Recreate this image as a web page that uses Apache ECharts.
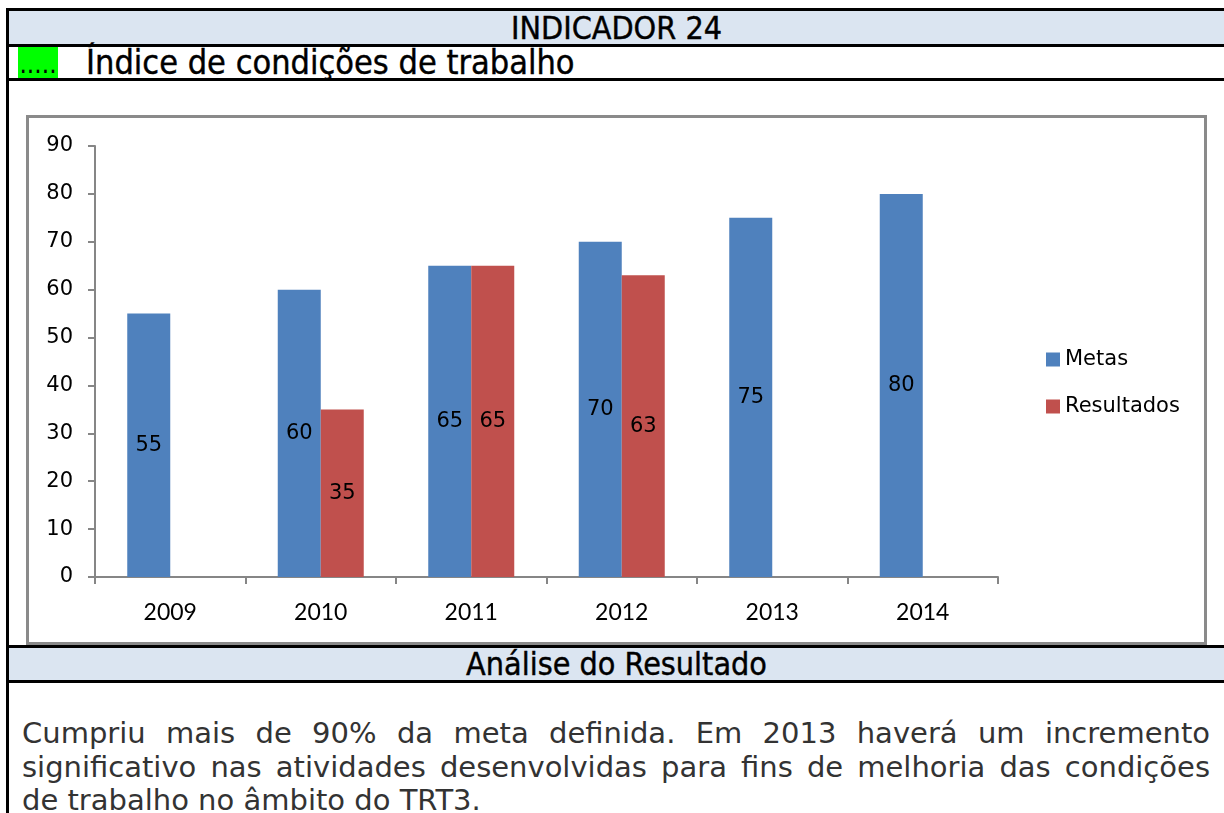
<!DOCTYPE html>
<html>
<head>
<meta charset="utf-8">
<script src="https://cdn.jsdelivr.net/npm/echarts@6/dist/echarts.min.js"></script>
<style>
  html, body { margin: 0; padding: 0; background: #fff; width: 1224px; height: 813px; overflow: hidden; }
  .abs { position: absolute; }
  .hline { position: absolute; background: #000; height: 3px; left: 6px; width: 1218px; }
  .band { position: absolute; left: 9px; width: 1215px; background: #dbe5f1; text-align: center;
          font-family: "DejaVu Sans Condensed", "DejaVu Sans", sans-serif; font-size: 32px; color: #000;
          -webkit-text-stroke: 0.4px #000; white-space: nowrap; }
  .body { position: absolute; left: 22px; width: 1188px; font-family: "DejaVu Sans", Verdana, sans-serif;
          font-size: 29px; color: #333; line-height: 34px; white-space: nowrap; }
  .j { text-align: justify; text-align-last: justify; white-space: normal; }
</style>
</head>
<body>
<div class="hline" style="top:8px"></div>
<div class="band" style="top:11px;height:33px;line-height:34px">INDICADOR 24</div>
<div class="hline" style="top:44px"></div>
<div class="abs" style="left:18px;top:47px;width:40px;height:31px;background:#00ff00;font-family:'DejaVu Sans Condensed',sans-serif;font-size:26px;line-height:34px;color:#000;text-align:center">.....</div>
<div class="abs" style="left:86px;top:46px;height:32px;line-height:33px;font-family:'DejaVu Sans Condensed','DejaVu Sans',sans-serif;font-size:34px;-webkit-text-stroke:0.4px #000;color:#000;white-space:nowrap">Índice de condições de trabalho</div>
<div class="hline" style="top:78px"></div>
<div class="abs" style="left:6px;top:8px;width:3px;height:805px;background:#000"></div>
<div class="abs" style="left:26px;top:115px;width:1181px;height:530px;border:3px solid #8a8a8a;box-sizing:border-box"></div>
<div class="hline" style="top:645px"></div>
<div class="band" style="top:648px;height:32px;line-height:33px">Análise do Resultado</div>
<div class="hline" style="top:680px"></div>
<div class="body j" style="top:716px">Cumpriu mais de 90% da meta definida. Em 2013 haverá um incremento</div>
<div class="body j" style="top:750px">significativo nas atividades desenvolvidas para fins de melhoria das condições</div>
<div class="body" style="top:783px">de trabalho no âmbito do TRT3.</div>
<div id="chart" class="abs" style="left:0;top:0;width:1224px;height:813px;z-index:5"></div>
<script>
const categories = ['2009', '2010', '2011', '2012', '2013', '2014'];
const metas = [55, 60, 65, 70, 75, 80];
const resultados = [null, 35, 65, 63, null, null];
const seriesNames = ['Metas', 'Resultados'];
const yTicks = { min: 0, max: 90, interval: 10 };

const chart = echarts.init(document.getElementById('chart'), null, { renderer: 'canvas' });
const labelStyle = {
  show: true, position: 'inside', color: '#000',
  fontFamily: '"DejaVu Sans", Verdana, sans-serif', fontSize: 21
};
chart.setOption({
  backgroundColor: 'transparent',
  animation: false,
  grid: { left: 95, top: 146, width: 903, height: 431, containLabel: false },
  legend: {
    orient: 'vertical', left: 1041, top: 344,
    itemWidth: 14, itemHeight: 14, itemGap: 26,
    icon: 'rect',
    textStyle: { fontFamily: '"DejaVu Sans", Verdana, sans-serif', fontSize: 21, color: '#000' },
    data: seriesNames
  },
  xAxis: {
    type: 'category', data: categories,
    axisLine: { lineStyle: { color: '#868686', width: 2 } },
    axisTick: { show: true, length: 7, alignWithLabel: false, lineStyle: { color: '#868686', width: 2 } },
    axisLabel: { color: '#000', fontFamily: 'Lato, sans-serif', fontSize: 23, margin: 24 },
    splitLine: { show: false }
  },
  yAxis: {
    type: 'value', min: yTicks.min, max: yTicks.max, interval: yTicks.interval,
    axisLine: { show: true, lineStyle: { color: '#868686', width: 2 } },
    axisTick: { show: true, length: 7, lineStyle: { color: '#868686', width: 2 } },
    axisLabel: { color: '#000', fontFamily: '"DejaVu Sans", Verdana, sans-serif', fontSize: 21, margin: 22 },
    splitLine: { show: false }
  },
  series: [
    { name: seriesNames[0], type: 'bar', data: metas, barWidth: 43, barGap: '0%',
      itemStyle: { color: '#4f81bd' }, label: labelStyle },
    { name: seriesNames[1], type: 'bar', data: resultados, barWidth: 43, barGap: '0%',
      itemStyle: { color: '#c0504d' }, label: labelStyle }
  ]
});
</script>
</body>
</html>
